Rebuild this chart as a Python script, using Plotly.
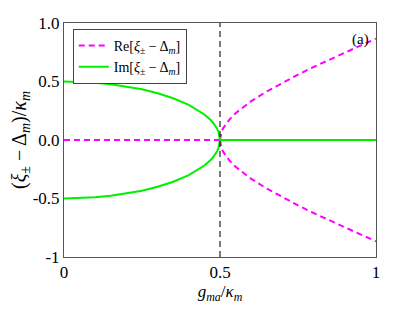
import plotly.graph_objects as go

# Im branch (g < 0.5)
g_low = [0.0, 0.05, 0.1, 0.15, 0.2, 0.25, 0.3, 0.35, 0.4, 0.43, 0.45, 0.47, 0.48, 0.49, 0.495, 0.5]
im_low = [0.5, 0.497, 0.49, 0.477, 0.458, 0.433, 0.4, 0.357, 0.3, 0.255, 0.218, 0.171, 0.14, 0.099, 0.07, 0.0]
# Re branch (g > 0.5)
g_high = [0.5, 0.505, 0.51, 0.52, 0.53, 0.55, 0.6, 0.65, 0.7, 0.75, 0.8, 0.85, 0.9, 0.95, 1.0]
re_high = [0.0, 0.071, 0.1, 0.142, 0.174, 0.229, 0.332, 0.415, 0.49, 0.559, 0.624, 0.687, 0.748, 0.807, 0.866]

x_ticks = [0, 0.5, 1]
x_ticktext = ["0", "0.5", "1"]
y_ticks = [-1, -0.5, 0, 0.5, 1]
y_ticktext = ["-1", "-0.5", "0.0", "0.5", "1.0"]

MAG = "#ff00ff"
GRN = "#00f000"
FONT = "Liberation Serif"
DASH = "6px,4px"

fig = go.Figure()
fig.add_trace(go.Scatter(x=[g_low[0], g_low[-1]], y=[0, 0], mode="lines",
                         line=dict(color=MAG, width=2, dash=DASH),
                         name="Re[<i>ξ</i><sub>±</sub> − Δ<sub><i>m</i></sub>]"))
fig.add_trace(go.Scatter(x=g_high, y=re_high, mode="lines",
                         line=dict(color=MAG, width=2, dash=DASH), showlegend=False))
fig.add_trace(go.Scatter(x=g_high, y=[-v for v in re_high], mode="lines",
                         line=dict(color=MAG, width=2, dash=DASH), showlegend=False))
fig.add_trace(go.Scatter(x=g_low, y=im_low, mode="lines",
                         line=dict(color=GRN, width=2),
                         name="Im[<i>ξ</i><sub>±</sub> − Δ<sub><i>m</i></sub>]"))
fig.add_trace(go.Scatter(x=g_low, y=[-v for v in im_low], mode="lines",
                         line=dict(color=GRN, width=2), showlegend=False))
fig.add_trace(go.Scatter(x=[g_high[0], g_high[-1]], y=[0, 0], mode="lines",
                         line=dict(color=GRN, width=2), showlegend=False))

fig.add_shape(type="line", xref="x", yref="paper", x0=0.5, x1=0.5, y0=0, y1=1,
              line=dict(color="#222222", width=1.2, dash="6px,4px"))

fig.add_annotation(text="(a)", xref="paper", yref="paper", x=0.985, y=0.975,
                   xanchor="right", yanchor="top", showarrow=False,
                   font=dict(family=FONT, size=15, color="black"))

fig.update_layout(
    width=407, height=304,
    margin=dict(l=56, r=39, t=15, b=55),
    paper_bgcolor="white", plot_bgcolor="white",
    font=dict(family=FONT, color="black"),
    legend=dict(x=0.028, y=0.975, xanchor="left", yanchor="top",
                bgcolor="white", bordercolor="#444444", borderwidth=1,
                font=dict(family=FONT, size=14), tracegroupgap=0,
                itemwidth=30),
    xaxis=dict(range=[0, 1], tickvals=x_ticks, ticktext=x_ticktext,
               showgrid=False, zeroline=False, showline=True, mirror=True,
               linecolor="#555555", linewidth=1, ticks="", automargin=False,
               tickfont=dict(family=FONT, size=17),
               title=dict(text="<i>g</i><sub><i>ma</i></sub>/<i>κ</i><sub><i>m</i></sub>",
                          font=dict(family=FONT, size=17), standoff=2)),
    yaxis=dict(range=[-1, 1], tickvals=y_ticks, ticktext=y_ticktext,
               showgrid=False, zeroline=False, showline=True, mirror=True,
               linecolor="#555555", linewidth=1, ticks="", automargin=False,
               tickfont=dict(family=FONT, size=17),
               title=dict(text="(<i>ξ</i><sub>±</sub> − Δ<sub><i>m</i></sub>)/<i>κ</i><sub><i>m</i></sub>",
                          font=dict(family=FONT, size=20), standoff=4)),
)

fig.write_html("out.html")
